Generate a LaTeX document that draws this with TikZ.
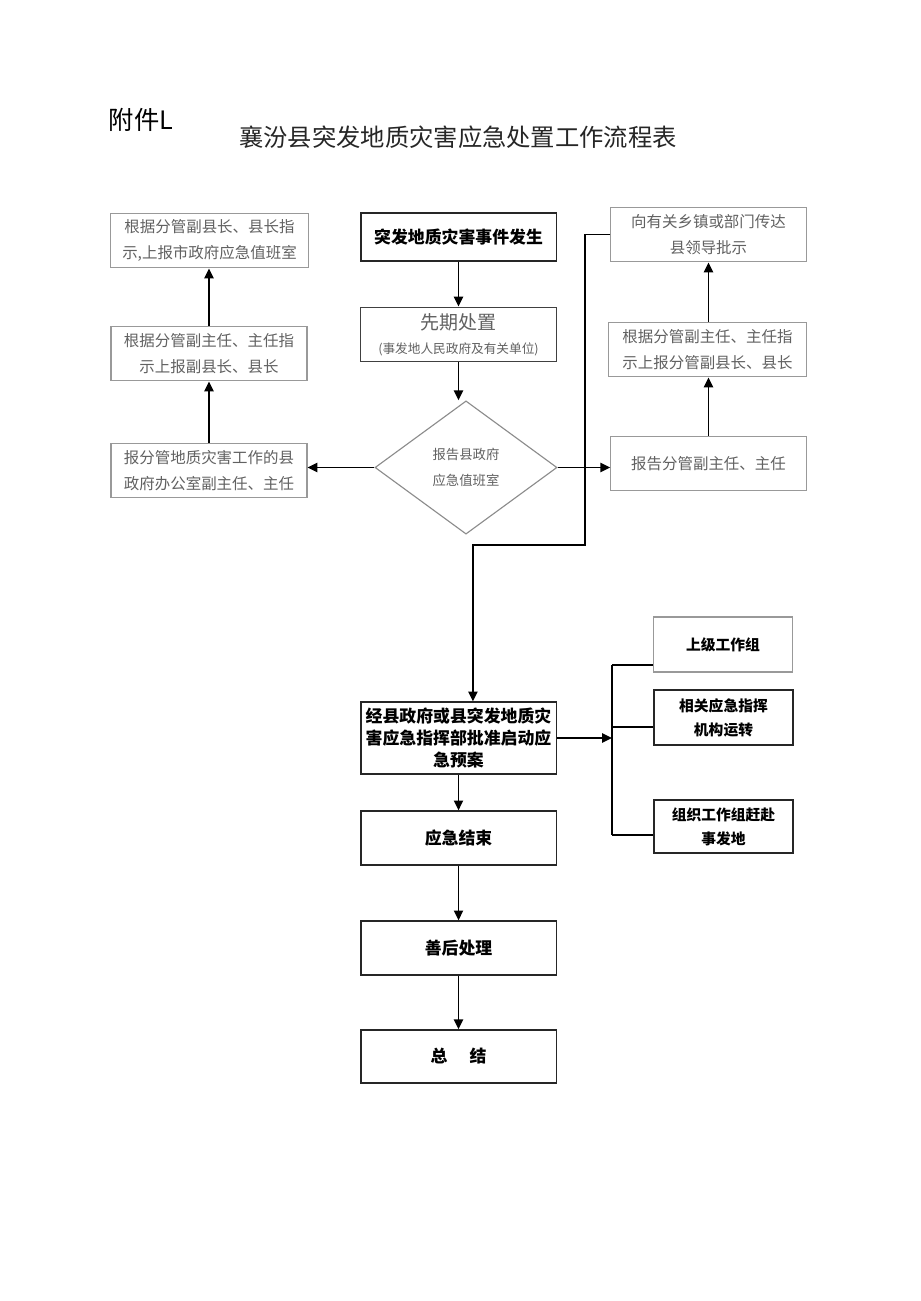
\documentclass[tikz,border=0pt]{standalone}
\usepackage{fontspec}
\newfontfamily\cjk{Noto Sans CJK SC}
\usetikzlibrary{positioning,calc,shapes.geometric,arrows.meta}

\tikzset{
	greybox/.style={draw=black!40,line width=0.8pt,text=black!62,align=center,inner sep=2pt,
		font=\cjk\fontsize{11}{19}\selectfont},
	boldbox/.style={draw=black!85,line width=0.9pt,align=center,inner sep=2pt,
		font=\cjk\bfseries\fontsize{12}{15.5}\selectfont},
	groupbox/.style={boldbox,minimum width=3.48cm,minimum height=1.37cm,
		font=\cjk\bfseries\fontsize{10.5}{17}\selectfont},
	arr/.style={-{Triangle[length=7pt,width=6.5pt]},line width=1.35pt},
	conn/.style={line width=1.1pt}
}

\begin{document}
\begin{tikzpicture}[x=0.025cm,y=-0.025cm]
	\useasboundingbox[fill=white] (0,0) rectangle (920,1301);
	
	% heading
	\node[anchor=west,font=\cjk\fontsize{18}{20}\selectfont] (annex) at (104,120) {附件L};
	\node[font=\cjk\fontsize{17.3}{20}\selectfont,text=black!85] (title) at (458,137) {襄汾县突发地质灾害应急处置工作流程表};
	
	% middle column
	\node[boldbox,minimum width=4.88cm,minimum height=1.2cm] (occur) at (458.5,237) {突发地质灾害事件发生};
	\node[greybox,draw=black!75,minimum width=4.88cm,minimum height=1.37cm,font=\cjk\fontsize{9}{17}\selectfont] (early) at (458.5,334.5)
		{{\fontsize{13.5}{17}\selectfont 先期处置}\\(事发地人民政府及有关单位)};
	\node[diamond,draw=black!45,line width=0.8pt,minimum width=4.55cm,minimum height=3.33cm,inner sep=0pt,
		align=center,text=black!62,font=\cjk\fontsize{9.5}{18}\selectfont] (duty) at (466,467.5) {报告县政府\\应急值班室};
	\draw[arr] (occur.south)--(early.north);
	\draw[arr] (early.south)--(early.south |- duty.north);
	
	% left column
	\node[greybox,minimum width=4.93cm,minimum height=1.37cm] (lt) at (209.5,240.5) {根据分管副县长、县长指\\示,上报市政府应急值班室};
	\node[greybox,minimum width=4.9cm,minimum height=1.37cm] (lm) at (209,353.5) {根据分管副主任、主任指\\示上报副县长、县长};
	\node[greybox,minimum width=4.9cm,minimum height=1.37cm] (lb) at (209,470.5) {报分管地质灾害工作的县\\政府办公室副主任、主任};
	\draw[arr] (duty.west)--(duty.west -| lb.east);
	\draw[arr] (lb.north)--(lb.north |- lm.south);
	\draw[arr] (lm.north)--(lm.north |- lt.south);
	
	% right column
	\node[greybox,minimum width=4.88cm,minimum height=1.37cm] (rt) at (708.5,234.5) {向有关乡镇或部门传达\\县领导批示};
	\node[greybox,minimum width=4.93cm,minimum height=1.37cm] (rm) at (707.5,349.5) {根据分管副主任、主任指\\示上报分管副县长、县长};
	\node[greybox,minimum width=4.88cm,minimum height=1.37cm] (rb) at (708.5,463.5) {报告分管副主任、主任};
	\draw[arr] (duty.east)--(duty.east -| rb.west);
	\draw[arr] (rb.north)--(rb.north |- rm.south);
	\draw[arr] (rb.north |- rm.north)--(rb.north |- rt.south);
	
	% lower column
	\node[boldbox,minimum width=4.88cm,minimum height=1.8cm] (plan) at (458.5,738) {经县政府或县突发地质灾\\害应急指挥部批准启动应\\急预案};
	\node[boldbox,minimum width=4.88cm,minimum height=1.35cm] (finish) at (458.5,838) {应急结束};
	\node[boldbox,minimum width=4.88cm,minimum height=1.35cm] (after) at (458.5,948) {善后处理};
	\node[boldbox,minimum width=4.88cm,minimum height=1.33cm] (summ) at (458.5,1056.5) {总\hspace{0.55cm}结};
	
	\coordinate (bend) at (585,545);
	\draw[arr] (rt.west)-|(bend)-|([xshift=0.36cm]plan.north);
	\draw[arr] (plan.south)--(finish.north);
	\draw[arr] (finish.south)--(after.north);
	\draw[arr] (after.south)--(summ.north);
	
	% working groups
	\node[groupbox,draw=black!40] (g1) at (723,644.5) {上级工作组};
	\node[groupbox] (g2) at (723.5,717.5) {相关应急指挥\\机构运转};
	\node[groupbox,minimum height=1.33cm] (g3) at (723.5,826.5) {组织工作组赶赴\\事发地};
	\coordinate (s1) at (612,665);
	\coordinate (s2) at (612,727);
	\coordinate (s3) at (612,835);
	\draw[arr] (plan.east)--(plan.east -| s1);
	\draw[conn] (s1)--(s3);
	\draw[conn] (s1)--(s1 -| g1.west);
	\draw[conn] (s2)--(s2 -| g2.west);
	\draw[conn] (s3)--(s3 -| g3.west);
\end{tikzpicture}
\end{document}
